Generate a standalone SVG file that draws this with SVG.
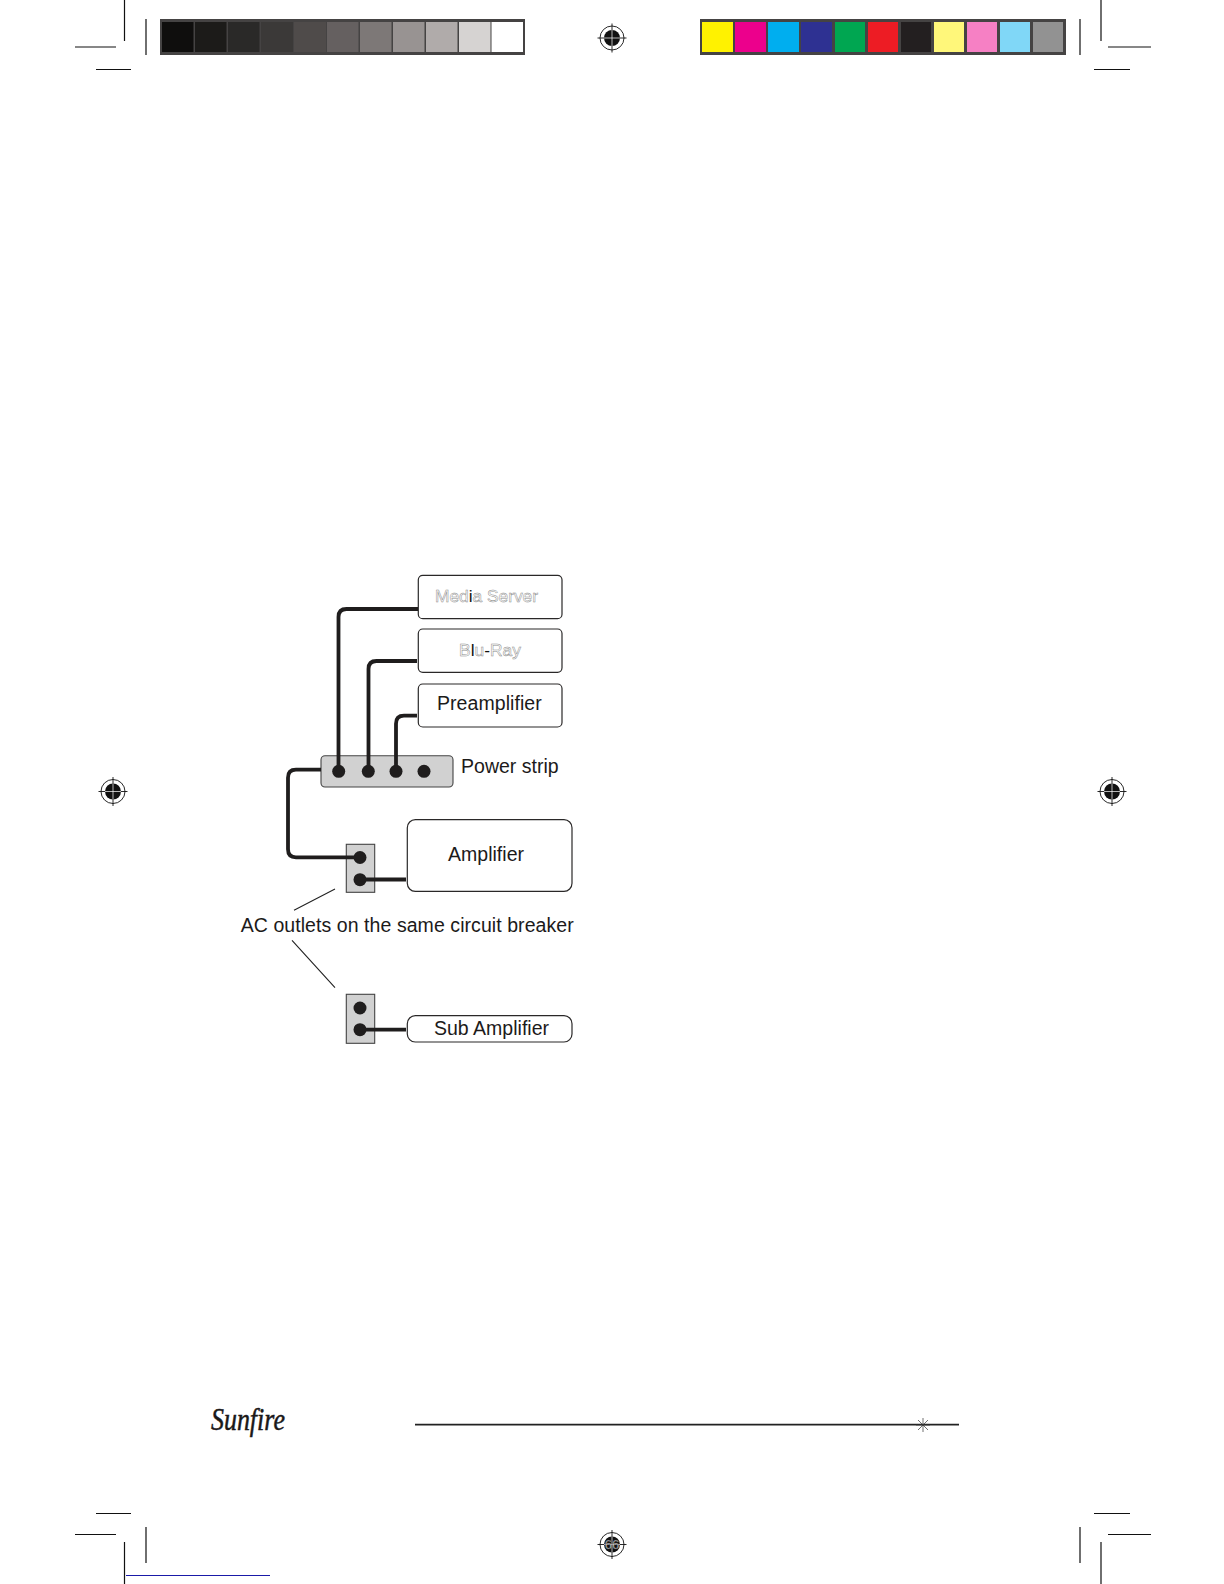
<svg xmlns="http://www.w3.org/2000/svg" width="1224" height="1584" viewBox="0 0 1224 1584">
<style>
text{font-family:"Liberation Sans",Arial,sans-serif;font-size:19.5px;fill:#1c1a1a}
.crop{stroke:#111;stroke-width:1.2;fill:none}
.box{fill:#fff;stroke:#2a2828;stroke-width:1.2}
.panel{fill:#d1d1d1;stroke:#444;stroke-width:1.1}
.dot{fill:#1f1d1d}
.wire{fill:none;stroke:#1f1d1d;stroke-width:3.8}
.lead{stroke:#222;stroke-width:1.1;fill:none}
text.ghost{fill:#fff;stroke:#8c8c8c;stroke-width:.5;font-size:17.4px}
.ink{fill:#111;stroke:none}
.frame{fill:#454343}
</style>
<defs>
<g id="reg">
<circle r="12" fill="#fff" stroke="#111" stroke-width=".9"/>
<circle r="8" fill="#111"/>
<path d="M-14.500 0H14.500M0-14.500V14.500" stroke="#111" stroke-width=".9"/>
<path d="M-8 0H8M0-8V8" stroke="#fff" stroke-width=".7"/>
</g>
</defs>
<rect width="1224" height="1584" fill="#fff"/>

<g id="crop-marks" class="crop">
<path d="M124.500 0V41M75 47H116M146 19V55M96 69.500H131"/>
<path d="M1101 0V41M1108 47H1151M1080 19V55M1094 69.500H1130"/>
<path d="M96 1513.500H131M75 1534.500H116M146 1527V1563M124.500 1542V1584"/>
<path d="M1094 1513.500H1130M1108 1534.500H1151M1080 1527V1563M1101 1542V1584"/>
</g>
<path id="blue-rule" d="M126 1575.500H270" stroke="#1a1aa8" stroke-width="1" fill="none"/>

<g id="gray-bar">
<rect class="frame" x="160" y="19" width="365" height="36"/>
<rect x="162" y="22" width="31.500" height="30" fill="#0f0e0d"/>
<rect x="195" y="22" width="31.500" height="30" fill="#1c1b19"/>
<rect x="228" y="22" width="31.500" height="30" fill="#2a2928"/>
<rect x="261" y="22" width="32" height="30" fill="#3b3938"/>
<rect x="294" y="22" width="32" height="30" fill="#4f4b4a"/>
<rect x="327" y="22" width="31.500" height="30" fill="#656060"/>
<rect x="360" y="22" width="31.500" height="30" fill="#7d7877"/>
<rect x="393" y="22" width="31.500" height="30" fill="#989392"/>
<rect x="426" y="22" width="31.500" height="30" fill="#b0abaa"/>
<rect x="459" y="22" width="31.500" height="30" fill="#d6d3d2"/>
<rect x="491.500" y="22" width="31.500" height="30" fill="#fff"/>
</g>
<g id="color-bar">
<rect class="frame" x="700" y="19" width="366" height="36"/>
<rect x="702" y="22" width="31" height="30" fill="#fff200"/>
<rect x="735" y="22" width="31" height="30" fill="#ec008c"/>
<rect x="768" y="22" width="31" height="30" fill="#00aeef"/>
<rect x="801" y="22" width="31" height="30" fill="#2e3192"/>
<rect x="835" y="22" width="30" height="30" fill="#00a651"/>
<rect x="868" y="22" width="30" height="30" fill="#ed1c24"/>
<rect x="901" y="22" width="30" height="30" fill="#231f20"/>
<rect x="934" y="22" width="30" height="30" fill="#fff77a"/>
<rect x="967" y="22" width="30" height="30" fill="#f680c4"/>
<rect x="1000" y="22" width="30" height="30" fill="#80d7f7"/>
<rect x="1033" y="22" width="30" height="30" fill="#929292"/>
</g>

<use href="#reg" x="612" y="38"/>
<use href="#reg" x="113" y="791.500"/>
<use href="#reg" x="1112" y="791.500"/>
<g id="page-reg">
<use href="#reg" x="612" y="1544.500"/>
<text x="612" y="1549" text-anchor="middle" style="font-size:13px;fill:#fff;stroke:#333;stroke-width:.5">66</text>
</g>

<g id="media-server">
<rect class="box" x="418.300" y="575.300" width="143.700" height="43.400" rx="4.500"/>
<text class="ghost" x="435" y="602" textLength="103">Med<tspan class="ink">i</tspan>a Server</text>
</g>
<g id="blu-ray">
<rect class="box" x="418.300" y="629" width="143.700" height="43.300" rx="4.500"/>
<text class="ghost" x="459" y="655.700" textLength="62">B<tspan class="ink">l</tspan>u<tspan class="ink">-</tspan>Ray</text>
</g>
<g id="preamplifier">
<rect class="box" x="418.300" y="684" width="143.700" height="43" rx="4.500"/>
<text x="437" y="710" textLength="104.700">Preamplifier</text>
</g>
<g id="power-strip">
<rect class="panel" x="321" y="755.700" width="132" height="31.300" rx="4"/>
<circle class="dot" cx="338.700" cy="771.300" r="6.500"/>
<circle class="dot" cx="368.300" cy="771.300" r="6.500"/>
<circle class="dot" cx="396" cy="771.300" r="6.500"/>
<circle class="dot" cx="424" cy="771.300" r="6.500"/>
<text x="461" y="773" textLength="97.700">Power strip</text>
</g>
<g id="outlet-1">
<rect class="panel" x="346.300" y="844.300" width="28.400" height="48"/>
<circle class="dot" cx="360" cy="857.500" r="6.500"/>
<circle class="dot" cx="360" cy="879.700" r="6.500"/>
</g>
<g id="amplifier">
<rect class="box" x="407.300" y="819.700" width="164.700" height="71.600" rx="8"/>
<text x="448" y="861" textLength="76">Amplifier</text>
</g>
<text id="ac-label" x="240.700" y="931.500" textLength="333">AC outlets on the same circuit breaker</text>
<g id="outlet-2">
<rect class="panel" x="346.300" y="994.300" width="28.400" height="49"/>
<circle class="dot" cx="360" cy="1008" r="6.500"/>
<circle class="dot" cx="360" cy="1029.700" r="6.500"/>
</g>
<g id="sub-amplifier">
<rect class="box" x="407.300" y="1015.700" width="164.700" height="26.300" rx="8"/>
<text x="434" y="1034.700" textLength="115">Sub Amplifier</text>
</g>

<g id="connectors">
<path class="wire" d="M418 609H346.500Q338.500 609 338.500 617V771"/>
<path class="wire" d="M417 661H376.500Q368.500 661 368.500 669V771"/>
<path class="wire" d="M417 715.700H404Q396 715.700 396 723.700V771"/>
<path class="wire" d="M321 769.700H296Q288 769.700 288 777.700V849.300Q288 857.300 296 857.300H360"/>
<path class="wire" style="stroke-width:4" d="M360 879.500H406"/>
<path class="wire" d="M360 1029.700H406"/>
<path class="lead" d="M294 910.300L335 889M292 940.300L335 987.700"/>
</g>

<g id="footer">
<text transform="translate(211 1430) scale(.81 1)" style="font-family:'Liberation Serif','Times New Roman',serif;font-style:italic;font-size:32px;fill:#1a1818;stroke:#1a1818;stroke-width:.5">Sunfire</text>
<path d="M415 1424.700H959" stroke="#222" stroke-width="1.800" fill="none"/>
<path d="M923 1418V1432M916 1425H930M918 1420L928 1430M928 1420L918 1430" stroke="#333" stroke-width=".7" fill="none"/>
</g>
</svg>
